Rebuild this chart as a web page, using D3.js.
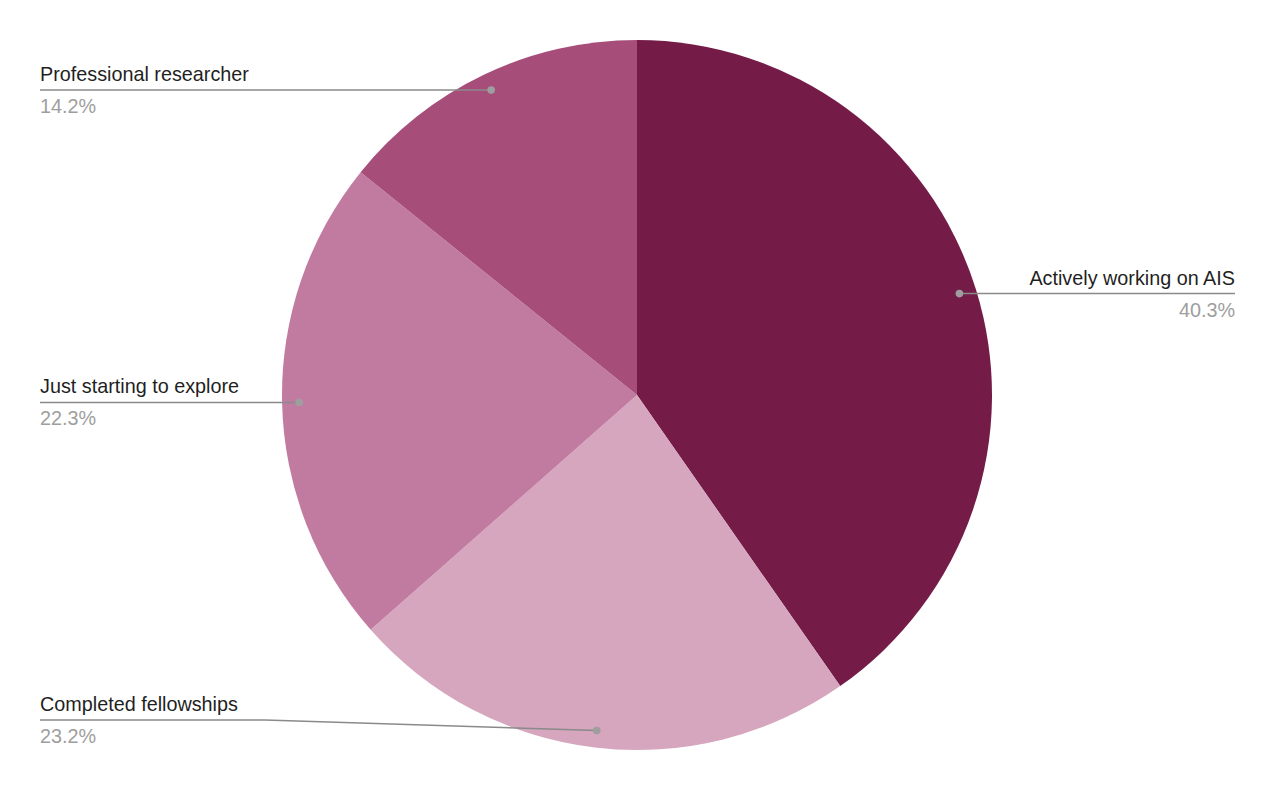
<!DOCTYPE html>
<html><head><meta charset="utf-8">
<script src="https://cdn.jsdelivr.net/npm/d3@7/dist/d3.min.js"></script>
<style>body{margin:0;background:#fff}svg{display:block;font-family:"Liberation Sans",Arial,sans-serif}</style>
</head><body><svg id="c" width="1274" height="790"></svg>
<script>
const categories = ["Actively working on AIS", "Completed fellowships", "Just starting to explore", "Professional researcher"];
const values = [40.3, 23.2, 22.3, 14.2];
const labels = ["40.3%", "23.2%", "22.3%", "14.2%"];
const colors = ["#741b47", "#d5a6bd", "#c27ba0", "#a64d79"];

const W = 1274, H = 790, cx = 637, cy = 395, R = 355;
const svg = d3.select("#c");
const g = svg.append("g").attr("transform", `translate(${cx},${cy})`);
const data = categories.map((c, i) => ({c, v: values[i], l: labels[i], col: colors[i]}));
const pie = d3.pie().value(d => d.v).sort(null);
const arcs = pie(data);
const arc = d3.arc().innerRadius(0).outerRadius(R);
g.selectAll("path.s").data(arcs).join("path").attr("class", "s")
  .attr("d", arc).attr("fill", d => d.data.col);

const leftX = 40 - cx, rightX = 1235 - cx, maxY = 720 - cy, bendX = 265 - cx;
arcs.forEach(a => {
  const mid = (a.startAngle + a.endAngle) / 2;
  const px = Math.sin(mid) * R * 0.952, py = -Math.cos(mid) * R * 0.952;
  const right = px > 0;
  const ly = Math.min(py, maxY);
  const endX = right ? rightX : leftX;
  let pts;
  if (ly !== py) pts = [[px, py], [bendX, ly], [endX, ly]];
  else pts = [[px, py], [endX, ly]];
  g.append("path").attr("d", d3.line()(pts)).attr("fill", "none")
    .attr("stroke", "#8a8a8a").attr("stroke-width", 1.5);
  g.append("circle").attr("cx", px).attr("cy", py).attr("r", 3.8).attr("fill", "#9e9e9e");
  g.append("text").attr("x", endX).attr("y", ly - 9)
    .attr("text-anchor", right ? "end" : "start")
    .attr("font-size", 19.8).attr("fill", "#1f1f1f").text(a.data.c);
  g.append("text").attr("x", endX).attr("y", ly + 23)
    .attr("text-anchor", right ? "end" : "start")
    .attr("font-size", 19.8).attr("fill", "#9e9e9e").text(a.data.l);
});
</script></body></html>
